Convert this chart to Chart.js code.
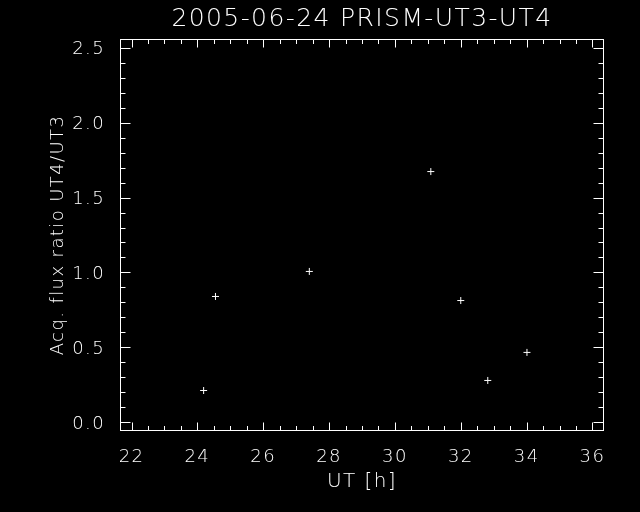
<!DOCTYPE html>
<html><head><meta charset="utf-8">
<script src="https://cdn.jsdelivr.net/npm/chart.js@4"></script>
<style>html,body{margin:0;padding:0;background:#000}canvas{display:block}</style>
</head><body>
<canvas id="c" width="640" height="512"></canvas>
<script>
// ---- data ----
const utHours   = [24.19, 24.55, 27.40, 31.09, 32.00, 32.82, 34.01];
const fluxRatio = [0.213, 0.840, 1.007, 1.673, 0.813, 0.280, 0.467];
const xTickValues = [22, 24, 26, 28, 30, 32, 34, 36];
const yTickValues = [0.0, 0.5, 1.0, 1.5, 2.0, 2.5];
const xMinorStep = 0.5;
const yMinorStep = 0.1;
const xRange = [21.65, 36.35];
const yRange = [-0.057, 2.557];
const titleText = '2005-06-24 PRISM-UT3-UT4';
const xTitle = 'UT [h]';
const yTitle = 'Acq. flux ratio UT4/UT3';

const FAMILY = "'DejaVu Sans', 'Liberation Sans', sans-serif";
const labelFont = {family: FAMILY, size: 18, weight: '200'};

const idlFrame = {
  id: 'idlFrame',
  beforeDraw(chart) {
    const c = chart.ctx;
    c.save(); c.fillStyle = '#000'; c.fillRect(0, 0, chart.width, chart.height); c.restore();
    try { c.letterSpacing = '1.4px'; } catch (e) {}
  },
  afterDatasetsDraw(chart) {
    const {ctx: c, chartArea: a, scales: {x, y}} = chart;
    c.save();
    c.strokeStyle = '#fff'; c.lineWidth = 1;
    const L = Math.round(a.left) + 0.5, R = Math.round(a.right) - 0.5;
    const T = Math.round(a.top) + 0.5, B = Math.round(a.bottom) - 0.5;
    c.strokeRect(L, T, R - L, B - T);
    c.beginPath();
    const x0 = Math.ceil(x.min / xMinorStep - 1e-9), x1 = Math.floor(x.max / xMinorStep + 1e-9);
    for (let i = x0; i <= x1; i++) {
      const v = i * xMinorStep;
      const major = xTickValues.some(t => Math.abs(t - v) < 1e-6);
      const len = major ? 8 : 4.5;
      const px = Math.round(x.getPixelForValue(v)) + 0.5;
      c.moveTo(px, B); c.lineTo(px, B - len);
      c.moveTo(px, T); c.lineTo(px, T + len);
    }
    const y0 = Math.ceil(y.min / yMinorStep - 1e-9), y1 = Math.floor(y.max / yMinorStep + 1e-9);
    for (let i = y0; i <= y1; i++) {
      const v = i * yMinorStep;
      const major = yTickValues.some(t => Math.abs(t - v) < 1e-6);
      const len = major ? 10 : 5;
      const py = Math.round(y.getPixelForValue(v)) + 0.5;
      c.moveTo(L, py); c.lineTo(L + len, py);
      c.moveTo(R, py); c.lineTo(R - len, py);
    }
    c.stroke();
    c.restore();
  }
};

new Chart(document.getElementById('c'), {
  type: 'scatter',
  data: {
    datasets: [{
      data: utHours.map((v, i) => ({x: v, y: fluxRatio[i]})),
      pointStyle: 'cross',
      radius: 3.5,
      borderColor: '#fff',
      backgroundColor: '#fff',
      borderWidth: 1
    }]
  },
  options: {
    responsive: false,
    animation: false,
    events: [],
    layout: {padding: {left: 0, right: 36, top: 0, bottom: 0}},
    plugins: {
      legend: {display: false},
      tooltip: {enabled: false},
      title: {
        display: true, text: titleText, color: '#fff', fullSize: false,
        font: {family: FAMILY, size: 25, weight: '200'},
        padding: {top: 4, bottom: 5}
      }
    },
    scales: {
      x: {
        type: 'linear', position: 'bottom', min: xRange[0], max: xRange[1],
        afterBuildTicks: s => { s.ticks = xTickValues.map(v => ({value: v})); },
        afterFit: s => { s.height = 81; },
        grid: {display: false}, border: {display: false},
        ticks: {color: '#fff', font: labelFont, padding: 8, maxRotation: 0, autoSkip: false,
                callback: v => String(v)},
        title: {display: true, text: xTitle, color: '#fff', font: {family: FAMILY, size: 20, weight: '200'},
                padding: {top: 0, bottom: 18}}
      },
      y: {
        type: 'linear', position: 'left', min: yRange[0], max: yRange[1],
        afterBuildTicks: s => { s.ticks = yTickValues.map(v => ({value: v})); },
        afterFit: s => { s.width = 120; },
        grid: {display: false}, border: {display: false},
        ticks: {color: '#fff', font: labelFont, padding: 7, autoSkip: false, labelOffset: 2,
                callback: v => Number(v).toFixed(1)},
        title: {display: true, text: yTitle, color: '#fff', font: labelFont, padding: {top: 48, bottom: 0}}
      }
    }
  },
  plugins: [idlFrame]
});
</script>
</body></html>
